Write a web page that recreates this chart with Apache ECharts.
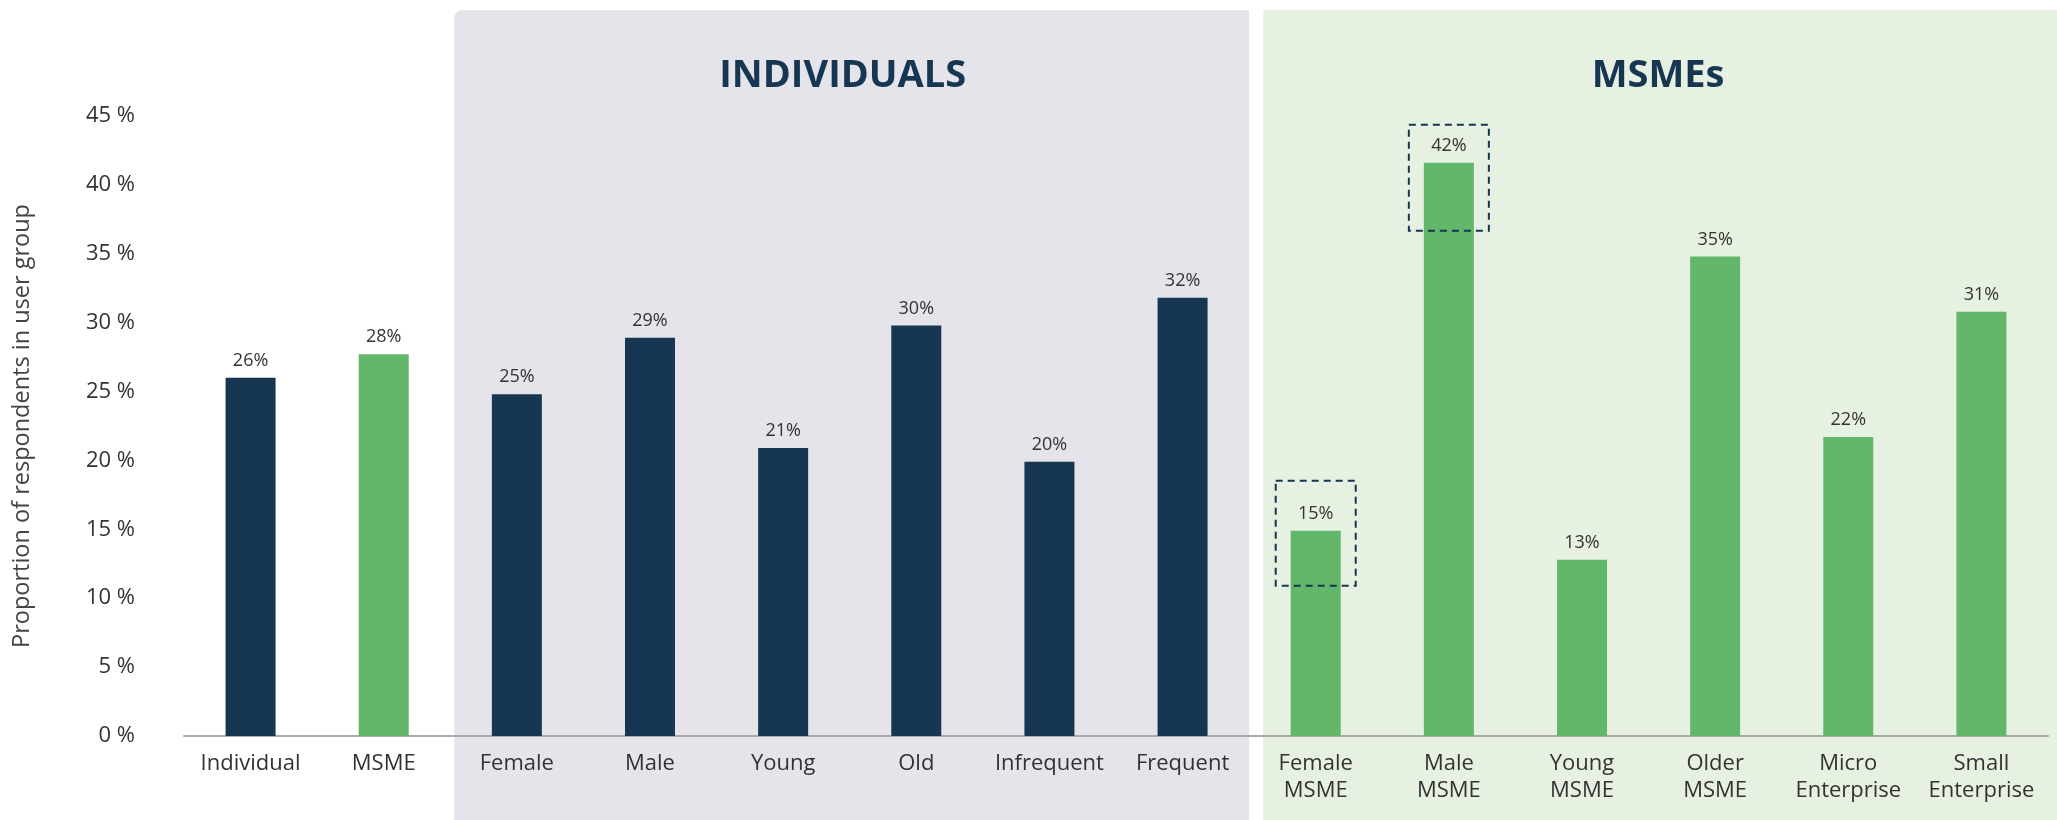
<!DOCTYPE html>
<html>
<head>
<meta charset="utf-8">
<script src="https://cdn.jsdelivr.net/npm/echarts@6/dist/echarts.min.js"></script>
<style>
html,body{margin:0;padding:0;background:#fff;}
#chart{width:2057px;height:820px;}
</style>
</head>
<body>
<div id="chart"></div>
<script>
// ---- data ----
const categories = ['Individual','MSME','Female','Male','Young','Old','Infrequent','Frequent',
  'Female\nMSME','Male\nMSME','Young\nMSME','Older\nMSME','Micro\nEnterprise','Small\nEnterprise'];
const values = [26.0, 27.7, 24.8, 28.9, 20.9, 29.8, 19.9, 31.8, 14.9, 41.6, 12.8, 34.8, 21.7, 30.8];
const userType = ['individual','msme','individual','individual','individual','individual','individual','individual',
  'msme','msme','msme','msme','msme','msme'];
const panelTitles = ['INDIVIDUALS', 'MSMEs'];
const panelRanges = [[2, 7], [8, 13]];
const highlighted = [8, 9];
const yTicks = {min: 0, max: 45, interval: 5};
const yAxisName = 'Proportion of respondents in user group';

// ---- style ----
const NAVY = '#173652';
const GREEN = '#62b76a';
const typeColor = {individual: NAVY, msme: GREEN};
const panelFill = ['#e4e4ea', '#e6f1e2'];
const FONT = 'Open Sans';

const chart = echarts.init(document.getElementById('chart'));
chart.setOption({
  animation: false,
  backgroundColor: '#ffffff',
  grid: {left: 184, right: 9, top: 116, bottom: 84},
  xAxis: {
    type: 'category',
    data: categories,
    axisLine: {lineStyle: {color: '#aaaaaa', width: 2}},
    axisTick: {show: false},
    axisLabel: {color: '#333', fontFamily: FONT, fontSize: 22, margin: 14, lineHeight: 27, interval: 0}
  },
  yAxis: {
    type: 'value',
    min: yTicks.min, max: yTicks.max, interval: yTicks.interval,
    name: yAxisName,
    nameLocation: 'middle',
    nameGap: 150,
    nameTextStyle: {color: '#444', fontFamily: FONT, fontSize: 23.5},
    axisLine: {show: false},
    axisTick: {show: false},
    splitLine: {show: false},
    axisLabel: {color: '#333', fontFamily: FONT, fontSize: 22, margin: 49, formatter: '{value} %'}
  },
  series: [{
    type: 'bar',
    barWidth: 50,
    data: values.map((v, i) => ({value: v, itemStyle: {color: typeColor[userType[i]]}})),
    label: {
      show: true, position: 'top', distance: 8,
      color: '#333', fontFamily: FONT, fontSize: 18,
      formatter: p => Math.round(p.value) + '%'
    },
    z: 3
  }]
});

function buildGraphics() {
  const W = chart.getWidth(), H = chart.getHeight();
  const c0 = chart.convertToPixel({xAxisIndex: 0}, 0);
  const c1 = chart.convertToPixel({xAxisIndex: 0}, 1);
  const band = c1 - c0;
  const edgeL = i => chart.convertToPixel({xAxisIndex: 0}, i) - band / 2;
  const edgeR = i => chart.convertToPixel({xAxisIndex: 0}, i) + band / 2;
  const g = [];
  const panelX = [
    [edgeL(panelRanges[0][0]) + 4, edgeR(panelRanges[0][1])],
    [edgeL(panelRanges[1][0]) + 14, W]
  ];
  const titleShift = [-9, -2];
  panelX.forEach((px, k) => {
    g.push({
      type: 'rect', z: -10, silent: true,
      shape: {x: px[0], y: 10, width: px[1] - px[0], height: H - 10, r: k === 0 ? [8, 0, 0, 0] : 0},
      style: {fill: panelFill[k]}
    });
    g.push({
      type: 'text', z: 5, silent: true,
      x: (px[0] + px[1]) / 2 + titleShift[k], y: 76,
      style: {text: panelTitles[k], fill: NAVY, font: 'bold 38px "' + FONT + '"', align: 'center', verticalAlign: 'middle'}
    });
  });
  const boxOffsets = {8: [50, 55], 9: [38, 68]};
  highlighted.forEach(i => {
    const p = chart.convertToPixel({xAxisIndex: 0, yAxisIndex: 0}, [i, values[i]]);
    const off = boxOffsets[i] || [45, 60];
    g.push({
      type: 'rect', z: 10, silent: true,
      shape: {x: p[0] - 40, y: p[1] - off[0], width: 80, height: off[0] + off[1]},
      style: {fill: 'none', stroke: NAVY, lineWidth: 2, lineDash: [7, 5]}
    });
  });
  chart.setOption({graphic: g});
}
buildGraphics();
</script>
</body>
</html>
